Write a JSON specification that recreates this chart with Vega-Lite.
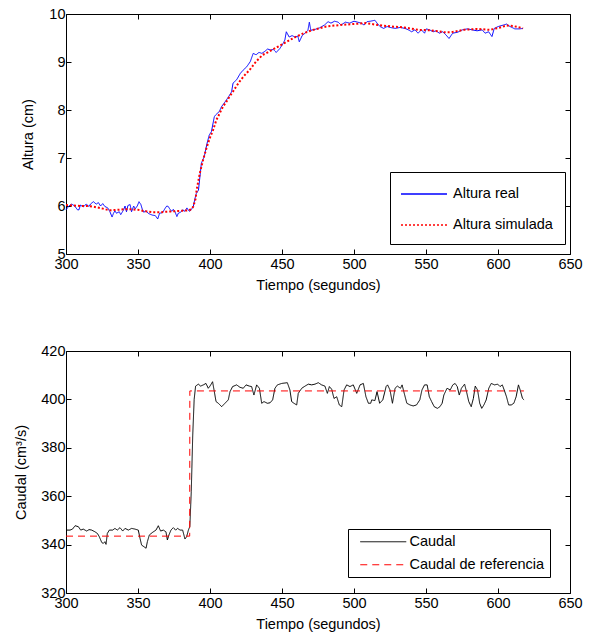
{
  "$schema": "https://vega.github.io/schema/vega-lite/v6.json",
  "padding": {"left": 13, "top": 5, "right": 0, "bottom": 0},
  "background": "white",
  "bounds": "flush",
  "spacing": 97,
  "resolve": {"legend": {"color": "independent", "strokeDash": "independent"}},
  "config": {
    "font": "Liberation Sans",
    "view": {"stroke": "black", "strokeWidth": 1},
    "axis": {"grid": false, "labelFont": "Liberation Sans", "labelFontSize": 14.5, "labelColor": "black", "titleFont": "Liberation Sans", "titleFontSize": 14.5, "titleFontWeight": "normal", "titleColor": "black", "tickColor": "black", "tickSize": -5, "domainColor": "black", "labelPadding": 8, "labelFlush": false, "labelOverlap": false},
    "axisY": {"labelPadding": 6},
    "legend": {"labelFont": "Liberation Sans", "labelFontSize": 14.5, "labelColor": "black", "strokeColor": "black", "fillColor": "white", "cornerRadius": 0}
  },
  "datasets": {
    "altura": [
      {"t":300,"h":5.92,"s":"Altura real"},{"t":302,"h":6.00,"s":"Altura real"},{"t":304,"h":6.04,"s":"Altura real"},{"t":306,"h":6.00,"s":"Altura real"},{"t":308,"h":5.92,"s":"Altura real"},{"t":309,"h":5.92,"s":"Altura real"},{"t":310,"h":6.02,"s":"Altura real"},{"t":312,"h":5.98,"s":"Altura real"},{"t":314,"h":6.04,"s":"Altura real"},{"t":316,"h":5.99,"s":"Altura real"},{"t":317,"h":6.04,"s":"Altura real"},{"t":319,"h":6.09,"s":"Altura real"},{"t":321,"h":6.04,"s":"Altura real"},{"t":322.5,"h":6.07,"s":"Altura real"},{"t":324,"h":6.00,"s":"Altura real"},{"t":325.5,"h":6.05,"s":"Altura real"},{"t":327,"h":5.99,"s":"Altura real"},{"t":329,"h":5.96,"s":"Altura real"},{"t":330.5,"h":5.88,"s":"Altura real"},{"t":332,"h":5.77,"s":"Altura real"},{"t":333,"h":5.85,"s":"Altura real"},{"t":334,"h":5.90,"s":"Altura real"},{"t":335,"h":5.85,"s":"Altura real"},{"t":337,"h":5.88,"s":"Altura real"},{"t":338,"h":5.82,"s":"Altura real"},{"t":340,"h":5.92,"s":"Altura real"},{"t":341,"h":6.00,"s":"Altura real"},{"t":342,"h":5.88,"s":"Altura real"},{"t":343,"h":6.01,"s":"Altura real"},{"t":344.5,"h":6.03,"s":"Altura real"},{"t":345.5,"h":5.88,"s":"Altura real"},{"t":347,"h":6.00,"s":"Altura real"},{"t":348,"h":5.94,"s":"Altura real"},{"t":349.5,"h":6.00,"s":"Altura real"},{"t":350.7,"h":6.09,"s":"Altura real"},{"t":352,"h":6.03,"s":"Altura real"},{"t":353,"h":5.93,"s":"Altura real"},{"t":354,"h":5.87,"s":"Altura real"},{"t":355.6,"h":5.90,"s":"Altura real"},{"t":357,"h":5.85,"s":"Altura real"},{"t":358.3,"h":5.83,"s":"Altura real"},{"t":360,"h":5.81,"s":"Altura real"},{"t":362,"h":5.80,"s":"Altura real"},{"t":363.7,"h":5.73,"s":"Altura real"},{"t":365,"h":5.85,"s":"Altura real"},{"t":367,"h":5.86,"s":"Altura real"},{"t":369,"h":5.96,"s":"Altura real"},{"t":370,"h":6.00,"s":"Altura real"},{"t":371,"h":5.99,"s":"Altura real"},{"t":372,"h":5.94,"s":"Altura real"},{"t":373.4,"h":5.89,"s":"Altura real"},{"t":374.5,"h":5.93,"s":"Altura real"},{"t":375.7,"h":5.88,"s":"Altura real"},{"t":377,"h":5.78,"s":"Altura real"},{"t":378,"h":5.85,"s":"Altura real"},{"t":379.6,"h":5.87,"s":"Altura real"},{"t":381,"h":5.92,"s":"Altura real"},{"t":382.6,"h":5.89,"s":"Altura real"},{"t":384,"h":5.96,"s":"Altura real"},{"t":385,"h":5.91,"s":"Altura real"},{"t":386,"h":5.89,"s":"Altura real"},{"t":387.3,"h":5.94,"s":"Altura real"},{"t":388.4,"h":5.99,"s":"Altura real"},{"t":389.6,"h":6.16,"s":"Altura real"},{"t":390.5,"h":6.26,"s":"Altura real"},{"t":392,"h":6.33,"s":"Altura real"},{"t":394,"h":6.89,"s":"Altura real"},{"t":396,"h":7.03,"s":"Altura real"},{"t":398,"h":7.31,"s":"Altura real"},{"t":399.5,"h":7.48,"s":"Altura real"},{"t":401,"h":7.55,"s":"Altura real"},{"t":403,"h":7.86,"s":"Altura real"},{"t":404,"h":7.90,"s":"Altura real"},{"t":406.5,"h":7.97,"s":"Altura real"},{"t":408,"h":8.07,"s":"Altura real"},{"t":410.5,"h":8.17,"s":"Altura real"},{"t":413,"h":8.28,"s":"Altura real"},{"t":415,"h":8.38,"s":"Altura real"},{"t":416,"h":8.56,"s":"Altura real"},{"t":418.5,"h":8.63,"s":"Altura real"},{"t":421,"h":8.76,"s":"Altura real"},{"t":423,"h":8.83,"s":"Altura real"},{"t":425.5,"h":8.90,"s":"Altura real"},{"t":428,"h":9.01,"s":"Altura real"},{"t":430,"h":9.18,"s":"Altura real"},{"t":432,"h":9.15,"s":"Altura real"},{"t":434,"h":9.20,"s":"Altura real"},{"t":436,"h":9.18,"s":"Altura real"},{"t":438,"h":9.22,"s":"Altura real"},{"t":440,"h":9.27,"s":"Altura real"},{"t":442,"h":9.25,"s":"Altura real"},{"t":444,"h":9.26,"s":"Altura real"},{"t":446,"h":9.20,"s":"Altura real"},{"t":448.5,"h":9.28,"s":"Altura real"},{"t":450,"h":9.35,"s":"Altura real"},{"t":451,"h":9.40,"s":"Altura real"},{"t":452,"h":9.46,"s":"Altura real"},{"t":453,"h":9.63,"s":"Altura real"},{"t":455,"h":9.52,"s":"Altura real"},{"t":457,"h":9.55,"s":"Altura real"},{"t":459,"h":9.52,"s":"Altura real"},{"t":461,"h":9.54,"s":"Altura real"},{"t":462,"h":9.42,"s":"Altura real"},{"t":464,"h":9.55,"s":"Altura real"},{"t":466,"h":9.60,"s":"Altura real"},{"t":468,"h":9.66,"s":"Altura real"},{"t":469,"h":9.83,"s":"Altura real"},{"t":470,"h":9.66,"s":"Altura real"},{"t":473,"h":9.68,"s":"Altura real"},{"t":476,"h":9.71,"s":"Altura real"},{"t":479.5,"h":9.77,"s":"Altura real"},{"t":482,"h":9.84,"s":"Altura real"},{"t":484,"h":9.81,"s":"Altura real"},{"t":486.5,"h":9.85,"s":"Altura real"},{"t":489,"h":9.83,"s":"Altura real"},{"t":491,"h":9.77,"s":"Altura real"},{"t":494,"h":9.83,"s":"Altura real"},{"t":497,"h":9.81,"s":"Altura real"},{"t":500,"h":9.85,"s":"Altura real"},{"t":502.5,"h":9.83,"s":"Altura real"},{"t":505,"h":9.81,"s":"Altura real"},{"t":507,"h":9.77,"s":"Altura real"},{"t":509,"h":9.84,"s":"Altura real"},{"t":511.5,"h":9.85,"s":"Altura real"},{"t":514.5,"h":9.87,"s":"Altura real"},{"t":516,"h":9.81,"s":"Altura real"},{"t":518,"h":9.74,"s":"Altura real"},{"t":520.6,"h":9.70,"s":"Altura real"},{"t":523,"h":9.74,"s":"Altura real"},{"t":525,"h":9.72,"s":"Altura real"},{"t":528.6,"h":9.70,"s":"Altura real"},{"t":532,"h":9.72,"s":"Altura real"},{"t":535.4,"h":9.70,"s":"Altura real"},{"t":537.7,"h":9.67,"s":"Altura real"},{"t":540,"h":9.63,"s":"Altura real"},{"t":542.3,"h":9.67,"s":"Altura real"},{"t":544.5,"h":9.60,"s":"Altura real"},{"t":546.8,"h":9.67,"s":"Altura real"},{"t":549,"h":9.60,"s":"Altura real"},{"t":550.2,"h":9.69,"s":"Altura real"},{"t":552.5,"h":9.67,"s":"Altura real"},{"t":555,"h":9.63,"s":"Altura real"},{"t":557,"h":9.65,"s":"Altura real"},{"t":559.3,"h":9.60,"s":"Altura real"},{"t":561.6,"h":9.63,"s":"Altura real"},{"t":564,"h":9.56,"s":"Altura real"},{"t":566,"h":9.49,"s":"Altura real"},{"t":568.5,"h":9.60,"s":"Altura real"},{"t":572,"h":9.62,"s":"Altura real"},{"t":575.3,"h":9.67,"s":"Altura real"},{"t":578.7,"h":9.69,"s":"Altura real"},{"t":582,"h":9.67,"s":"Altura real"},{"t":585.5,"h":9.65,"s":"Altura real"},{"t":589,"h":9.67,"s":"Altura real"},{"t":591,"h":9.60,"s":"Altura real"},{"t":593.5,"h":9.63,"s":"Altura real"},{"t":595.8,"h":9.53,"s":"Altura real"},{"t":597.4,"h":9.70,"s":"Altura real"},{"t":600.3,"h":9.74,"s":"Altura real"},{"t":603.8,"h":9.77,"s":"Altura real"},{"t":606,"h":9.79,"s":"Altura real"},{"t":608.3,"h":9.74,"s":"Altura real"},{"t":611.7,"h":9.69,"s":"Altura real"},{"t":615,"h":9.69,"s":"Altura real"},{"t":617.4,"h":9.70,"s":"Altura real"},
      {"t":300,"h":6.02,"s":"Altura simulada"},{"t":305,"h":6.01,"s":"Altura simulada"},{"t":310,"h":6.00,"s":"Altura simulada"},{"t":315,"h":6.00,"s":"Altura simulada"},{"t":320,"h":5.98,"s":"Altura simulada"},{"t":325,"h":5.95,"s":"Altura simulada"},{"t":330,"h":5.91,"s":"Altura simulada"},{"t":335,"h":5.92,"s":"Altura simulada"},{"t":340,"h":5.93,"s":"Altura simulada"},{"t":345,"h":5.93,"s":"Altura simulada"},{"t":350,"h":5.92,"s":"Altura simulada"},{"t":355,"h":5.89,"s":"Altura simulada"},{"t":360,"h":5.87,"s":"Altura simulada"},{"t":365,"h":5.87,"s":"Altura simulada"},{"t":370,"h":5.88,"s":"Altura simulada"},{"t":375,"h":5.89,"s":"Altura simulada"},{"t":380,"h":5.90,"s":"Altura simulada"},{"t":385,"h":5.91,"s":"Altura simulada"},{"t":387,"h":5.93,"s":"Altura simulada"},{"t":388.4,"h":5.99,"s":"Altura simulada"},{"t":390,"h":6.15,"s":"Altura simulada"},{"t":390.7,"h":6.33,"s":"Altura simulada"},{"t":392.9,"h":6.68,"s":"Altura simulada"},{"t":395.2,"h":6.96,"s":"Altura simulada"},{"t":397.5,"h":7.20,"s":"Altura simulada"},{"t":399.8,"h":7.41,"s":"Altura simulada"},{"t":402.1,"h":7.58,"s":"Altura simulada"},{"t":404.4,"h":7.79,"s":"Altura simulada"},{"t":406.7,"h":7.93,"s":"Altura simulada"},{"t":409,"h":8.07,"s":"Altura simulada"},{"t":411.3,"h":8.17,"s":"Altura simulada"},{"t":413.6,"h":8.28,"s":"Altura simulada"},{"t":415.9,"h":8.38,"s":"Altura simulada"},{"t":418.2,"h":8.49,"s":"Altura simulada"},{"t":420.5,"h":8.59,"s":"Altura simulada"},{"t":422.8,"h":8.68,"s":"Altura simulada"},{"t":425.1,"h":8.76,"s":"Altura simulada"},{"t":427.4,"h":8.83,"s":"Altura simulada"},{"t":429.7,"h":8.92,"s":"Altura simulada"},{"t":432,"h":9.01,"s":"Altura simulada"},{"t":434.3,"h":9.08,"s":"Altura simulada"},{"t":436.6,"h":9.15,"s":"Altura simulada"},{"t":438.9,"h":9.18,"s":"Altura simulada"},{"t":441.3,"h":9.22,"s":"Altura simulada"},{"t":446,"h":9.30,"s":"Altura simulada"},{"t":450.9,"h":9.38,"s":"Altura simulada"},{"t":455.5,"h":9.46,"s":"Altura simulada"},{"t":460,"h":9.53,"s":"Altura simulada"},{"t":465,"h":9.60,"s":"Altura simulada"},{"t":471.6,"h":9.67,"s":"Altura simulada"},{"t":480.8,"h":9.74,"s":"Altura simulada"},{"t":490,"h":9.77,"s":"Altura simulada"},{"t":499,"h":9.79,"s":"Altura simulada"},{"t":508,"h":9.81,"s":"Altura simulada"},{"t":517,"h":9.77,"s":"Altura simulada"},{"t":526,"h":9.74,"s":"Altura simulada"},{"t":535,"h":9.72,"s":"Altura simulada"},{"t":544.5,"h":9.67,"s":"Altura simulada"},{"t":553.6,"h":9.66,"s":"Altura simulada"},{"t":562.8,"h":9.62,"s":"Altura simulada"},{"t":567.3,"h":9.62,"s":"Altura simulada"},{"t":576.4,"h":9.67,"s":"Altura simulada"},{"t":585.5,"h":9.69,"s":"Altura simulada"},{"t":594.6,"h":9.67,"s":"Altura simulada"},{"t":601.5,"h":9.72,"s":"Altura simulada"},{"t":606,"h":9.76,"s":"Altura simulada"},{"t":610.6,"h":9.75,"s":"Altura simulada"},{"t":617.4,"h":9.70,"s":"Altura simulada"}
    ],
    "caudal": [
      {"t":300,"q":346.0,"s":"Caudal"},{"t":302.8,"q":346.0,"s":"Caudal"},{"t":304.5,"q":346.4,"s":"Caudal"},{"t":306.3,"q":347.8,"s":"Caudal"},{"t":308.6,"q":347.4,"s":"Caudal"},{"t":310.2,"q":346.0,"s":"Caudal"},{"t":312,"q":346.4,"s":"Caudal"},{"t":314.4,"q":345.6,"s":"Caudal"},{"t":316,"q":346.2,"s":"Caudal"},{"t":317.8,"q":346.0,"s":"Caudal"},{"t":320.1,"q":345.3,"s":"Caudal"},{"t":321.8,"q":344.6,"s":"Caudal"},{"t":323.1,"q":343.3,"s":"Caudal"},{"t":324.8,"q":340.9,"s":"Caudal"},{"t":325.9,"q":340.5,"s":"Caudal"},{"t":327,"q":341.2,"s":"Caudal"},{"t":327.8,"q":340.1,"s":"Caudal"},{"t":328.7,"q":344.6,"s":"Caudal"},{"t":330.1,"q":346.0,"s":"Caudal"},{"t":332.4,"q":346.0,"s":"Caudal"},{"t":334,"q":346.7,"s":"Caudal"},{"t":335.6,"q":346.0,"s":"Caudal"},{"t":337.5,"q":347.0,"s":"Caudal"},{"t":339.4,"q":345.6,"s":"Caudal"},{"t":341,"q":346.7,"s":"Caudal"},{"t":343.3,"q":346.0,"s":"Caudal"},{"t":345.6,"q":346.7,"s":"Caudal"},{"t":347.9,"q":346.4,"s":"Caudal"},{"t":350.2,"q":346.0,"s":"Caudal"},{"t":351.4,"q":342.6,"s":"Caudal"},{"t":352.5,"q":339.8,"s":"Caudal"},{"t":354.2,"q":339.1,"s":"Caudal"},{"t":355.6,"q":338.5,"s":"Caudal"},{"t":356.5,"q":341.2,"s":"Caudal"},{"t":357.9,"q":344.0,"s":"Caudal"},{"t":360.2,"q":345.1,"s":"Caudal"},{"t":362.5,"q":346.0,"s":"Caudal"},{"t":364.1,"q":347.8,"s":"Caudal"},{"t":365.7,"q":345.6,"s":"Caudal"},{"t":367.6,"q":346.0,"s":"Caudal"},{"t":369.4,"q":345.3,"s":"Caudal"},{"t":370.4,"q":341.9,"s":"Caudal"},{"t":371.5,"q":344.0,"s":"Caudal"},{"t":372.9,"q":346.0,"s":"Caudal"},{"t":374.5,"q":347.0,"s":"Caudal"},{"t":376.2,"q":346.0,"s":"Caudal"},{"t":377.5,"q":346.7,"s":"Caudal"},{"t":379.2,"q":346.0,"s":"Caudal"},{"t":381,"q":346.0,"s":"Caudal"},{"t":382.6,"q":342.3,"s":"Caudal"},{"t":383.8,"q":343.3,"s":"Caudal"},{"t":385,"q":346.0,"s":"Caudal"},{"t":386,"q":347.5,"s":"Caudal"},{"t":387,"q":362,"s":"Caudal"},{"t":388,"q":385,"s":"Caudal"},{"t":389,"q":400,"s":"Caudal"},{"t":390,"q":405.5,"s":"Caudal"},{"t":391.9,"q":406.3,"s":"Caudal"},{"t":393.5,"q":405.5,"s":"Caudal"},{"t":395.4,"q":406.0,"s":"Caudal"},{"t":397.2,"q":406.6,"s":"Caudal"},{"t":398.8,"q":404.6,"s":"Caudal"},{"t":400,"q":405.5,"s":"Caudal"},{"t":401.8,"q":407.3,"s":"Caudal"},{"t":402.8,"q":403.9,"s":"Caudal"},{"t":404.2,"q":399.1,"s":"Caudal"},{"t":405.8,"q":398.4,"s":"Caudal"},{"t":408.1,"q":397.0,"s":"Caudal"},{"t":410.4,"q":398.4,"s":"Caudal"},{"t":412.7,"q":399.8,"s":"Caudal"},{"t":413.9,"q":403.2,"s":"Caudal"},{"t":415.7,"q":405.3,"s":"Caudal"},{"t":418.5,"q":406.0,"s":"Caudal"},{"t":420.8,"q":405.0,"s":"Caudal"},{"t":423.1,"q":404.6,"s":"Caudal"},{"t":425,"q":406.0,"s":"Caudal"},{"t":427.3,"q":405.5,"s":"Caudal"},{"t":428.9,"q":405.3,"s":"Caudal"},{"t":430.5,"q":401.8,"s":"Caudal"},{"t":432.4,"q":406.0,"s":"Caudal"},{"t":434.3,"q":404.6,"s":"Caudal"},{"t":435.9,"q":398.4,"s":"Caudal"},{"t":437.5,"q":399.1,"s":"Caudal"},{"t":439.8,"q":398.4,"s":"Caudal"},{"t":441.7,"q":398.6,"s":"Caudal"},{"t":443.5,"q":399.8,"s":"Caudal"},{"t":445.1,"q":404.6,"s":"Caudal"},{"t":446.8,"q":406.0,"s":"Caudal"},{"t":449.8,"q":406.6,"s":"Caudal"},{"t":453.7,"q":406.9,"s":"Caudal"},{"t":455.5,"q":403.9,"s":"Caudal"},{"t":456.7,"q":399.1,"s":"Caudal"},{"t":458.3,"q":398.4,"s":"Caudal"},{"t":460.2,"q":397.7,"s":"Caudal"},{"t":461.3,"q":402.5,"s":"Caudal"},{"t":463.7,"q":404.6,"s":"Caudal"},{"t":466,"q":405.5,"s":"Caudal"},{"t":468.3,"q":406.3,"s":"Caudal"},{"t":470.6,"q":406.0,"s":"Caudal"},{"t":472.9,"q":406.3,"s":"Caudal"},{"t":475.2,"q":406.9,"s":"Caudal"},{"t":477.5,"q":406.0,"s":"Caudal"},{"t":479.8,"q":405.5,"s":"Caudal"},{"t":481.5,"q":402.5,"s":"Caudal"},{"t":482.9,"q":405.3,"s":"Caudal"},{"t":484.5,"q":404.2,"s":"Caudal"},{"t":486.1,"q":400.4,"s":"Caudal"},{"t":488,"q":401.1,"s":"Caudal"},{"t":489.8,"q":397.7,"s":"Caudal"},{"t":491.5,"q":397.0,"s":"Caudal"},{"t":493.1,"q":403.9,"s":"Caudal"},{"t":494.9,"q":406.0,"s":"Caudal"},{"t":497.2,"q":405.3,"s":"Caudal"},{"t":499.5,"q":406.0,"s":"Caudal"},{"t":501.9,"q":402.5,"s":"Caudal"},{"t":504.2,"q":406.0,"s":"Caudal"},{"t":506.5,"q":406.6,"s":"Caudal"},{"t":508.3,"q":401.1,"s":"Caudal"},{"t":510,"q":398.4,"s":"Caudal"},{"t":511.6,"q":398.4,"s":"Caudal"},{"t":512.3,"q":399.8,"s":"Caudal"},{"t":514.5,"q":399.5,"s":"Caudal"},{"t":516.0,"q":403.2,"s":"Caudal"},{"t":517.8,"q":398.4,"s":"Caudal"},{"t":520.0,"q":399.8,"s":"Caudal"},{"t":522.3,"q":405.3,"s":"Caudal"},{"t":523.3,"q":406.0,"s":"Caudal"},{"t":525.0,"q":403.9,"s":"Caudal"},{"t":526.7,"q":398.4,"s":"Caudal"},{"t":528.5,"q":404.6,"s":"Caudal"},{"t":530.1,"q":405.5,"s":"Caudal"},{"t":532.3,"q":404.6,"s":"Caudal"},{"t":533.4,"q":406.0,"s":"Caudal"},{"t":535.2,"q":401.8,"s":"Caudal"},{"t":536.7,"q":398.4,"s":"Caudal"},{"t":538.9,"q":397.7,"s":"Caudal"},{"t":541.1,"q":397.3,"s":"Caudal"},{"t":543.4,"q":397.7,"s":"Caudal"},{"t":545.7,"q":399.8,"s":"Caudal"},{"t":547.2,"q":403.9,"s":"Caudal"},{"t":549.0,"q":406.0,"s":"Caudal"},{"t":550.8,"q":406.0,"s":"Caudal"},{"t":552.3,"q":401.1,"s":"Caudal"},{"t":553.9,"q":399.1,"s":"Caudal"},{"t":555.7,"q":397.0,"s":"Caudal"},{"t":557.9,"q":396.3,"s":"Caudal"},{"t":559.7,"q":397.0,"s":"Caudal"},{"t":561.2,"q":398.4,"s":"Caudal"},{"t":562.4,"q":401.8,"s":"Caudal"},{"t":564.6,"q":404.6,"s":"Caudal"},{"t":566.8,"q":403.9,"s":"Caudal"},{"t":568.6,"q":406.0,"s":"Caudal"},{"t":570.2,"q":406.6,"s":"Caudal"},{"t":571.7,"q":405.3,"s":"Caudal"},{"t":573.1,"q":401.8,"s":"Caudal"},{"t":574.6,"q":404.6,"s":"Caudal"},{"t":576.8,"q":406.3,"s":"Caudal"},{"t":578.4,"q":402.5,"s":"Caudal"},{"t":579.7,"q":399.1,"s":"Caudal"},{"t":581.4,"q":397.0,"s":"Caudal"},{"t":582.9,"q":400.4,"s":"Caudal"},{"t":584.2,"q":405.5,"s":"Caudal"},{"t":585.8,"q":403.9,"s":"Caudal"},{"t":587.3,"q":398.4,"s":"Caudal"},{"t":588.7,"q":396.3,"s":"Caudal"},{"t":590.2,"q":397.7,"s":"Caudal"},{"t":591.8,"q":399.8,"s":"Caudal"},{"t":593.6,"q":404.6,"s":"Caudal"},{"t":595.3,"q":406.6,"s":"Caudal"},{"t":597.6,"q":406.0,"s":"Caudal"},{"t":599.8,"q":406.3,"s":"Caudal"},{"t":601.4,"q":405.3,"s":"Caudal"},{"t":603.0,"q":406.0,"s":"Caudal"},{"t":604.3,"q":403.9,"s":"Caudal"},{"t":605.9,"q":401.1,"s":"Caudal"},{"t":607.4,"q":397.7,"s":"Caudal"},{"t":609.2,"q":397.7,"s":"Caudal"},{"t":611.0,"q":398.4,"s":"Caudal"},{"t":612.6,"q":401.1,"s":"Caudal"},{"t":614.2,"q":406.0,"s":"Caudal"},{"t":615.4,"q":403.9,"s":"Caudal"},{"t":617.0,"q":400.4,"s":"Caudal"},{"t":618.1,"q":399.8,"s":"Caudal"},
      {"t":300,"q":343.5,"s":"Caudal de referencia"},{"t":385.9,"q":343.5,"s":"Caudal de referencia"},{"t":386,"q":403.5,"s":"Caudal de referencia"},{"t":618,"q":403.5,"s":"Caudal de referencia"}
    ]
  },
  "vconcat": [
    {
      "width": 504,
      "height": 240,
      "data": {"name": "altura"},
      "layer": [
        {
          "mark": {"type": "line", "strokeCap": "butt"},
          "encoding": {
            "x": {"field": "t", "type": "quantitative", "scale": {"domain": [300, 650], "nice": false, "zero": false}, "axis": {"orient": "bottom", "values": [300,350,400,450,500,550,600,650], "title": "Tiempo (segundos)", "titlePadding": 8, "domain": false}},
            "y": {"field": "h", "type": "quantitative", "scale": {"domain": [5, 10], "nice": false, "zero": false}, "axis": {"orient": "left", "values": [5,6,7,8,9,10], "title": "Altura (cm)", "titlePadding": 13, "domain": false}},
            "color": {"field": "s", "type": "nominal", "scale": {"domain": ["Altura real", "Altura simulada", "Caudal", "Caudal de referencia"], "range": ["#0000ff", "#ff0000", "#000000", "#ff0000"]},
              "legend": {"title": null, "values": ["Altura real", "Altura simulada"], "orient": "none", "legendX": 324, "legendY": 158, "symbolType": "M-1,0H4.11", "symbolSize": 324, "symbolStrokeWidth": 1.5, "labelOffset": 33, "padding": 12, "rowPadding": 14, "symbolOffset": -2}},
            "strokeDash": {"field": "s", "type": "nominal", "scale": {"domain": ["Altura real", "Altura simulada", "Caudal", "Caudal de referencia"], "range": [[1, 0], [2, 2], [1, 0], [7, 5]]}, "legend": {"title": null, "values": ["Altura real", "Altura simulada"], "orient": "none", "legendX": 324, "legendY": 158, "symbolType": "M-1,0H4.11", "symbolSize": 324, "symbolStrokeWidth": 1.5, "labelOffset": 33, "padding": 12, "rowPadding": 14, "symbolOffset": -2}},
            "strokeWidth": {"field": "s", "type": "ordinal", "scale": {"domain": ["Altura real", "Altura simulada"], "range": [1, 2]}, "legend": null}
          }
        },
        {
          "mark": {"type": "line", "opacity": 0},
          "encoding": {
            "x": {"field": "t", "type": "quantitative", "axis": {"orient": "top", "values": [300,350,400,450,500,550,600,650], "labels": false, "title": null, "domain": false}},
            "y": {"field": "h", "type": "quantitative", "axis": {"orient": "right", "values": [5,6,7,8,9,10], "labels": false, "title": null, "domain": false}}
          }
        }
      ],
      "resolve": {"axis": {"x": "independent", "y": "independent"}}
    },
    {
      "width": 504,
      "height": 242,
      "data": {"name": "caudal"},
      "layer": [
        {
          "mark": {"type": "line", "strokeWidth": 1, "strokeCap": "butt"},
          "encoding": {
            "x": {"field": "t", "type": "quantitative", "scale": {"domain": [300, 650], "nice": false, "zero": false}, "axis": {"orient": "bottom", "values": [300,350,400,450,500,550,600,650], "title": "Tiempo (segundos)", "titlePadding": 8, "domain": false}},
            "y": {"field": "q", "type": "quantitative", "scale": {"domain": [320, 420], "nice": false, "zero": false}, "axis": {"orient": "left", "values": [320,340,360,380,400,420], "title": "Caudal (cm³/s)", "titlePadding": 12, "domain": false}},
            "color": {"field": "s", "type": "nominal", "scale": {"domain": ["Altura real", "Altura simulada", "Caudal", "Caudal de referencia"], "range": ["#0000ff", "#ff0000", "#000000", "#ff0000"]},
              "legend": {"title": null, "values": ["Caudal", "Caudal de referencia"], "orient": "none", "legendX": 282, "legendY": 178, "symbolType": "M-1,0H8.2", "symbolSize": 100, "labelOffset": 37, "padding": 5.5, "rowPadding": 8, "symbolOffset": 4.5, "symbolStrokeWidth": 1}},
            "strokeDash": {"field": "s", "type": "nominal", "scale": {"domain": ["Altura real", "Altura simulada", "Caudal", "Caudal de referencia"], "range": [[1, 0], [2, 2], [1, 0], [7, 5]]}, "legend": {"title": null, "values": ["Caudal", "Caudal de referencia"], "orient": "none", "legendX": 282, "legendY": 178, "symbolType": "M-1,0H8.2", "symbolSize": 100, "labelOffset": 37, "padding": 5.5, "rowPadding": 8, "symbolOffset": 4.5, "symbolStrokeWidth": 1}}
          }
        },
        {
          "mark": {"type": "line", "opacity": 0},
          "encoding": {
            "x": {"field": "t", "type": "quantitative", "axis": {"orient": "top", "values": [300,350,400,450,500,550,600,650], "labels": false, "title": null, "domain": false}},
            "y": {"field": "q", "type": "quantitative", "axis": {"orient": "right", "values": [320,340,360,380,400,420], "labels": false, "title": null, "domain": false}}
          }
        }
      ],
      "resolve": {"axis": {"x": "independent", "y": "independent"}}
    }
  ]
}
